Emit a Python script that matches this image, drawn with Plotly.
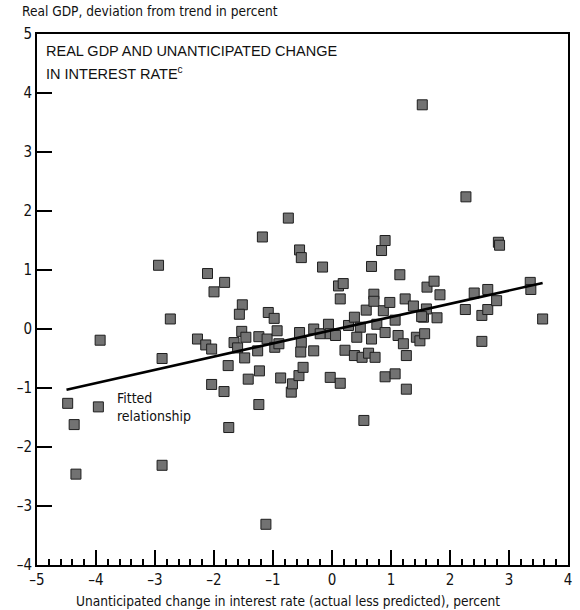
import plotly.graph_objects as go

# Unanticipated change in interest rate (actual less predicted), percent
rate_surprise = [
    -4.48, -4.37, -4.34, -3.96, -3.93, -2.94, -2.88, -2.88, -2.74, -2.28,
    -2.14, -2.04, -2.11, -2.00, -1.82, -2.04, -1.83, -1.76, -1.75, -1.66,
    -1.60, -1.53, -1.46, -1.52, -1.57, -1.48, -1.42, -1.24, -1.26, -1.23,
    -1.24, -1.18, -1.12, -1.10, -1.08, -0.98, -0.97, -0.93, -0.90, -0.87,
    -0.74, -0.69, -0.67, -0.56, -0.49, -0.55, -0.52, -0.55, -0.52, -0.53,
    -0.31, -0.31, -0.20, -0.16, -0.06, -0.03, 0.06, -0.03, 0.14, 0.11,
    0.19, 0.14, 0.22, 0.28, 0.38, 0.48, 0.42, 0.38, 0.51, 0.62,
    0.73, 0.54, 0.58, 0.67, 0.71, 0.71, 0.76, 0.67, 0.90, 0.87,
    0.98, 0.90, 0.84, 0.90, 1.07, 1.07, 1.12, 1.21, 1.26, 1.26,
    1.15, 1.24, 1.38, 1.43, 1.49, 1.55, 1.53, 1.57, 1.60, 1.52,
    1.78, 1.61, 1.73, 1.83, 2.26, 2.27, 2.41, 2.54, 2.64, 2.54,
    2.64, 2.79, 2.82, 2.84, 3.36, 3.37, 3.57,
]

# Real GDP, deviation from trend in percent
gdp_gap = [
    -1.26, -1.62, -2.46, -1.32, -0.19, 1.08, -0.50, -2.31, 0.17, -0.17,
    -0.27, -0.34, 0.94, 0.63, 0.79, -0.94, -1.06, -0.62, -1.67, -0.23,
    -0.32, -0.04, -0.14, 0.41, 0.25, -0.49, -0.85, -0.13, -0.37, -0.71,
    -1.28, 1.56, -3.31, -0.17, 0.28, 0.18, -0.31, -0.03, -0.25, -0.83,
    1.88, -1.07, -0.93, -0.79, -0.65, 1.34, 1.21, -0.06, -0.23, -0.39,
    0.00, -0.37, -0.08, 1.05, 0.08, -0.08, -0.11, -0.82, -0.92, 0.73,
    0.77, 0.51, -0.36, 0.06, 0.20, 0.03, -0.14, -0.45, -0.48, -0.41,
    -0.48, -1.55, 0.32, 1.06, 0.59, 0.47, 0.08, -0.17, -0.06, 0.31,
    0.45, 1.50, 1.33, -0.81, -0.76, 0.15, -0.11, -0.25, -0.45, -1.02,
    0.92, 0.51, 0.39, -0.14, -0.20, 0.20, 3.80, -0.08, 0.34, 0.21,
    0.19, 0.71, 0.81, 0.58, 0.33, 2.24, 0.61, 0.23, 0.33, -0.21,
    0.67, 0.48, 1.47, 1.42, 0.79, 0.67, 0.17,
]

# Fitted relationship: intercept, slope and the span it is drawn over
fit_intercept = -0.02
fit_slope = 0.224
fit_x = [-4.50, 3.57]
fit_y = [fit_intercept + fit_slope * x for x in fit_x]

x_ticks = [-5, -4, -3, -2, -1, 0, 1, 2, 3, 4]
x_tick_labels = ["–5", "–4", "–3", "–2", "–1", "0", "1", "2", "3", "4"]
y_ticks = [-4, -3, -2, -1, 0, 1, 2, 3, 4, 5]
y_tick_labels = ["–4", "–3", "–2", "–1", "0", "1", "2", "3", "4", "5"]

# small ticks every 0.2 along the horizontal axis
x_minor_step = 0.2
x_minor_ticks = [round(-5 + i * x_minor_step, 1) for i in range(46)]

NARROW = "DejaVu Sans Condensed, Roboto Condensed, Liberation Sans Narrow, sans-serif"
WIDE = "Liberation Sans, Arial, Helvetica, sans-serif"

fig = go.Figure()

fig.add_trace(go.Scatter(
    x=rate_surprise, y=gdp_gap, mode="markers",
    marker=dict(symbol="square", size=10, color="#727272",
                line=dict(color="#1e1e1e", width=1)),
    hoverinfo="x+y", showlegend=False,
))

fig.add_trace(go.Scatter(
    x=fit_x, y=fit_y, mode="lines",
    line=dict(color="black", width=2.6),
    hoverinfo="skip", showlegend=False,
))

axis_common = dict(
    showgrid=False, zeroline=False, showline=True, mirror=True,
    linecolor="black", linewidth=2,
    ticks="inside", tickcolor="black",
    tickfont=dict(family=NARROW, size=15, color="#111"),
)

fig.update_xaxes(
    range=[-5, 4], tickvals=x_ticks, ticktext=x_tick_labels,
    ticklen=15, tickwidth=2,
    minor=dict(ticks="inside", tickmode="array", tickvals=x_minor_ticks,
               ticklen=6, tickwidth=1.5, tickcolor="black", showgrid=False),
    **axis_common,
)
fig.update_yaxes(
    range=[-4, 5], tickvals=y_ticks, ticktext=y_tick_labels,
    ticklen=15, tickwidth=2,
    **axis_common,
)

fig.update_layout(
    width=580, height=610,
    margin=dict(l=37, r=8, t=34, b=45),
    plot_bgcolor="white", paper_bgcolor="white",
    annotations=[
        dict(text="Real GDP, deviation from trend in percent",
             xref="paper", yref="paper", x=-0.032, y=1.0, yshift=33,
             xanchor="left", yanchor="top", showarrow=False,
             font=dict(family=NARROW, size=13.6, color="#111")),
        dict(text="REAL GDP AND UNANTICIPATED CHANGE",
             xref="paper", yref="paper", x=0.013, y=0.986,
             xanchor="left", yanchor="top", align="left", showarrow=False,
             font=dict(family=WIDE, size=14.5, color="#111")),
        dict(text="IN INTEREST RATE<sup>c</sup>",
             xref="paper", yref="paper", x=0.013, y=0.947,
             xanchor="left", yanchor="top", align="left", showarrow=False,
             font=dict(family=WIDE, size=14.5, color="#111")),
        dict(text="Fitted<br>relationship",
             xref="x", yref="y", x=-3.68, y=-1.0,
             xanchor="left", yanchor="top", align="left", showarrow=False,
             font=dict(family=NARROW, size=14, color="#111")),
        dict(text="Unanticipated change in interest rate (actual less predicted), percent",
             xref="paper", yref="paper", x=0.473, y=0.0, yshift=-26,
             xanchor="center", yanchor="top", showarrow=False,
             font=dict(family=NARROW, size=13.6, color="#111")),
    ],
)

fig.write_html("out.html")
